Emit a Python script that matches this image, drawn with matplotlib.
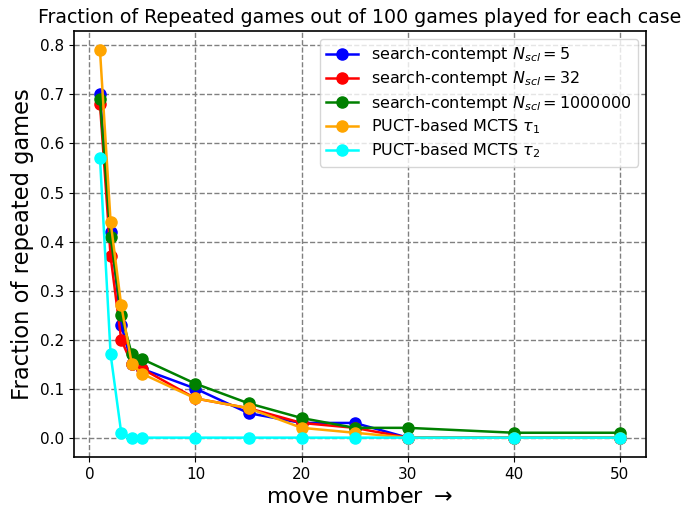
import numpy as np
import matplotlib.pyplot as plt

moves = [1, 2, 3, 4, 5, 10, 15, 20, 25, 30, 40, 50]

sc_5 = [0.70, 0.42, 0.23, 0.15, 0.14, 0.10, 0.05, 0.03, 0.03, 0.0, 0.0, 0.0]
sc_32 = [0.68, 0.37, 0.20, 0.15, 0.14, 0.08, 0.06, 0.03, 0.02, 0.0, 0.0, 0.0]
sc_1m = [0.69, 0.41, 0.25, 0.17, 0.16, 0.11, 0.07, 0.04, 0.02, 0.02, 0.01, 0.01]
puct_t1 = [0.79, 0.44, 0.27, 0.15, 0.13, 0.08, 0.06, 0.02, 0.01, 0.0, 0.0, 0.0]
puct_t2 = [0.57, 0.17, 0.01, 0.0, 0.0, 0.0, 0.0, 0.0, 0.0, 0.0, 0.0, 0.0]

series = [
    (sc_5, 'blue', r'search-contempt $N_{scl}=5$'),
    (sc_32, 'red', r'search-contempt $N_{scl}=32$'),
    (sc_1m, 'green', r'search-contempt $N_{scl}=1000000$'),
    (puct_t1, 'orange', r'PUCT-based MCTS $\tau_1$'),
    (puct_t2, 'cyan', r'PUCT-based MCTS $\tau_2$'),
]

fig = plt.figure(figsize=(6.87, 5.07), dpi=100)
ax = fig.add_axes([0.1077, 0.0986, 0.8326, 0.8403])

for vals, col, lab in series:
    ax.plot(moves, vals, '-o', color=col, label=lab, linewidth=1.8, markersize=8)

ax.set_xticks([0, 10, 20, 30, 40, 50])
ax.set_yticks(np.arange(0, 0.81, 0.1))
ax.tick_params(labelsize=11)
ax.grid(True, linestyle='--', color='gray', linewidth=1)
for s in ax.spines.values():
    s.set_linewidth(1.2)

ax.set_title('Fraction of Repeated games out of 100 games played for each case', fontsize=13.7)
ax.set_xlabel(r'move number $\rightarrow$', fontsize=16)
ax.set_ylabel('Fraction of repeated games', fontsize=16.3)
ax.legend(fontsize=11.5, loc='upper right', labelspacing=0.32)

fig.savefig('out.png', dpi=100)
